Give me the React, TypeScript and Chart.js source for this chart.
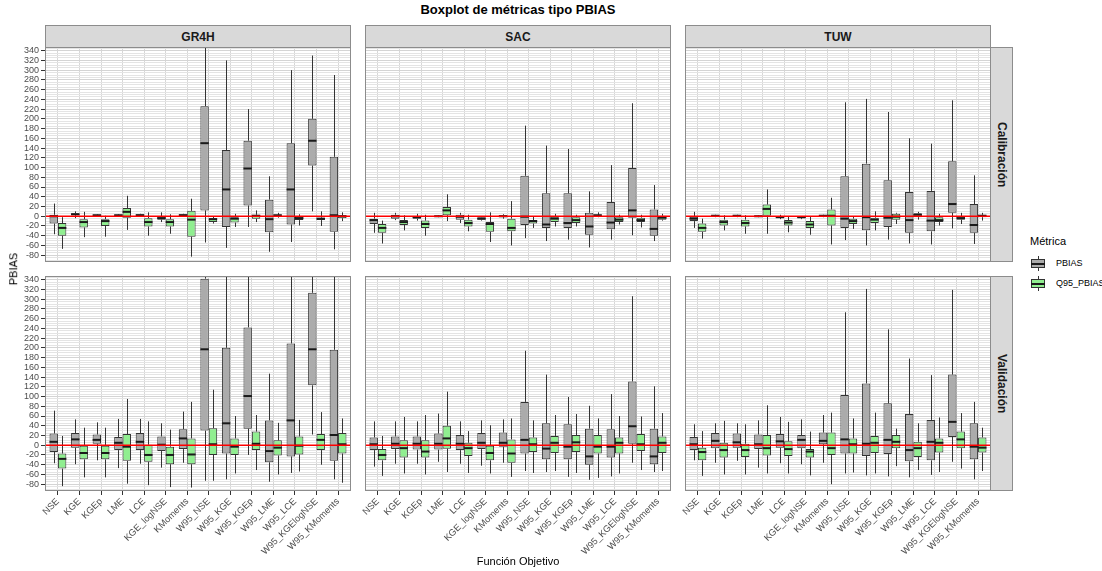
import React, { useEffect, useRef } from "react";
import { Chart, registerables } from "chart.js";
Chart.register(...registerables);

// ---------- data ----------
const categories = ["NSE", "KGE", "KGEp", "LME", "LCE", "KGE_logNSE", "KMoments", "W95_NSE", "W95_KGE", "W95_KGEp", "W95_LME", "W95_LCE", "W95_KGElogNSE", "W95_KMoments"];
const models = ["GR4H", "SAC", "TUW"];
const periods = ["Calibración", "Validación"];
const metrics = ["PBIAS", "Q95_PBIAS"];
const yTicks = [-80, -60, -40, -20, 0, 20, 40, 60, 80, 100, 120, 140, 160, 180, 200, 220, 240, 260, 280, 300, 320, 340];

// each entry: [min, q1, median, q3, max]
const gr4hCalPBIAS = [[-37,-15,0,3,26],[-4,2,4,6,10],[0,1,2,3,4],[0,1,2,3,4],[-1,1,2,4,5],[-12,-7,-4,-1,8],[-1,1,2,4,5],[-54,12,150,226,360],[-65,-22,55,136,320],[-22,22,98,155,220],[-73,-33,-6,34,82],[-53,-17,55,150,300],[10,104,155,200,330],[-68,-32,2,122,290]];
const gr4hCalQ95 = [[-67,-40,-24,-14,-2],[-43,-23,-12,-6,9],[-42,-20,-10,-6,1],[-28,-3,9,17,42],[-40,-21,-12,-4,8],[-36,-21,-12,-6,4],[-83,-42,-7,11,36],[-15,-12,-6,-4,0],[-22,-13,-5,-2,5],[-12,-5,1,3,12],[-3,0,2,3,7],[-19,-8,-4,-1,4],[-20,-8,-5,-3,10],[-10,-4,0,2,8]];
const gr4hValPBIAS = [[-37,-14,7,24,71],[-39,-5,12,25,53],[-31,3,11,22,47],[-47,-10,5,17,54],[-38,-10,7,25,54],[-46,-12,1,18,45],[-36,-8,14,33,69],[-73,30,197,342,420],[-70,-17,45,200,400],[-20,34,101,242,380],[-75,-35,-12,51,147],[-57,-23,51,209,390],[22,123,197,313,420],[-70,-32,21,196,400]];
const gr4hValQ95 = [[-84,-48,-28,-17,19],[-66,-29,-16,-1,36],[-66,-29,-16,-1,36],[-79,-32,-3,23,95],[-82,-34,-20,1,49],[-86,-39,-20,-3,32],[-87,-39,-19,14,89],[-73,-20,2,35,114],[-58,-20,-3,14,60],[-51,-10,3,28,62],[-60,-21,-5,10,46],[-54,-19,-1,18,52],[-40,-10,11,23,68],[-77,-17,2,25,55]];
const sacCalPBIAS = [[-34,-16,-8,-5,7],[-8,-5,0,3,7],[-9,-5,-2,0,5],[-2,-1,0,1,2],[-14,-7,-1,3,7],[-9,-7,-5,-2,0],[-5,-2,0,2,4],[-45,-18,-1,83,186],[-51,-24,-17,47,145],[-48,-24,-14,47,138],[-64,-38,-21,7,51],[-48,-27,-13,29,105],[-39,-3,12,99,232],[-51,-40,-26,14,64]];
const sacCalQ95 = [[-56,-34,-24,-16,-9],[-29,-18,-12,-8,2],[-40,-24,-16,-9,3],[-10,2,12,19,45],[-31,-21,-14,-7,3],[-53,-32,-16,-12,8],[-60,-31,-24,-5,31],[-24,-15,-10,-8,0],[-21,-12,-5,-1,5],[-21,-14,-8,-2,3],[-2,1,2,3,8],[-17,-12,-7,-2,3],[-23,-12,-8,-3,3],[-9,-7,-3,1,5]];
const sacValPBIAS = [[-44,-10,2,16,49],[-38,-8,3,18,49],[-38,-9,3,18,49],[-34,-9,3,24,65],[-38,-10,3,21,49],[-42,-8,5,25,51],[-36,-3,5,26,53],[-53,-17,11,89,194],[-55,-29,-7,45,145],[-65,-29,-3,43,99],[-71,-40,-23,34,81],[-64,-25,-3,33,105],[-36,3,39,131,306],[-55,-39,-23,34,121]];
const sacValQ95 = [[-63,-31,-20,-8,19],[-58,-25,-6,10,58],[-60,-25,-13,10,62],[-55,-7,14,40,110],[-57,-22,-6,5,29],[-58,-31,-16,-1,41],[-65,-36,-17,12,55],[-57,-14,2,16,51],[-53,-16,5,19,62],[-57,-14,6,21,64],[-67,-17,-3,21,55],[-58,-17,5,16,60],[-51,-12,2,23,59],[-53,-16,5,18,66]];
const tuwCalPBIAS = [[-24,-10,-5,-1,9],[-2,-1,1,2,3],[-2,-1,1,2,3],[-2,-1,0,1,2],[-6,-3,-2,0,3],[-6,-4,-2,-1,0],[-2,-1,1,2,3],[-49,-24,-5,82,234],[-60,-29,-2,108,241],[-48,-22,-3,74,214],[-56,-34,-8,50,160],[-58,-31,-9,52,149],[-25,7,25,113,238],[-57,-34,-18,25,84]];
const tuwCalQ95 = [[-46,-32,-24,-15,-5],[-29,-19,-12,-7,2],[-36,-21,-14,-7,2],[-36,1,15,24,55],[-33,-19,-13,-8,-1],[-38,-24,-17,-10,0],[-58,-19,1,14,38],[-26,-16,-10,-5,0],[-29,-14,-7,-3,10],[-16,-7,-1,5,7],[-7,-2,3,6,9],[-19,-12,-8,-2,5],[-16,-7,-4,-1,7],[-9,-2,1,3,7]];
const tuwValPBIAS = [[-31,-10,2,17,43],[-36,-6,9,25,45],[-32,-5,6,24,45],[-46,-8,2,22,51],[-37,-5,8,23,58],[-39,-6,11,21,53],[-36,2,9,26,62],[-58,-17,12,103,273],[-62,-22,3,127,321],[-64,-18,11,86,238],[-66,-33,-10,64,178],[-61,-31,7,52,144],[-34,17,48,145,319],[-70,-29,-3,45,89]];
const tuwValQ95 = [[-63,-31,-14,-5,29],[-60,-25,-10,5,50],[-60,-24,-10,3,43],[-58,-21,-6,21,82],[-58,-22,-8,8,48],[-62,-25,-13,-8,28],[-80,-20,-6,26,67],[-56,-17,2,14,55],[-58,-16,5,19,67],[-43,-6,7,21,34],[-51,-24,-6,7,45],[-55,-15,5,14,57],[-48,-6,12,28,66],[-53,-15,-5,16,36]];

const panels = [
  { row: 0, col: 0, pb: gr4hCalPBIAS, q95: gr4hCalQ95 },
  { row: 0, col: 1, pb: sacCalPBIAS, q95: sacCalQ95 },
  { row: 0, col: 2, pb: tuwCalPBIAS, q95: tuwCalQ95 },
  { row: 1, col: 0, pb: gr4hValPBIAS, q95: gr4hValQ95 },
  { row: 1, col: 1, pb: sacValPBIAS, q95: sacValQ95 },
  { row: 1, col: 2, pb: tuwValPBIAS, q95: tuwValQ95 },
];

// ---------- style / layout ----------
const FONT = "'Liberation Sans', Arial, Helvetica, sans-serif";
const COL_LEFT = [45, 365, 685];
const ROW_TOP = [47, 276];
const PANEL_W = 306;
const PANEL_H = 215;
const X_AXIS_H = 76;
const Y_MIN = -94;
const Y_MAX = 347.5;
const GRAY_FILL = "#ababab";
const GREEN_FILL = "#90ee90";
const OUTLINE = "#333333";

const yGridValues: number[] = [];
for (let v = -90; v <= 345; v += 5) yGridValues.push(v);

const boxExtras = {
  id: "boxExtras",
  beforeDatasetsDraw(chart: any) {
    const { ctx, chartArea: a } = chart;
    const y = chart.scales.y;
    ctx.save();
    ctx.beginPath();
    ctx.rect(a.left, a.top, a.right - a.left, a.bottom - a.top);
    ctx.clip();
    ctx.strokeStyle = OUTLINE;
    ctx.lineWidth = 1;
    chart.data.datasets.forEach((ds: any, di: number) => {
      const meta = chart.getDatasetMeta(di);
      meta.data.forEach((bar: any, i: number) => {
        const s = ds.stats[i];
        const x = Math.round(bar.x) + 0.5;
        ctx.beginPath();
        ctx.moveTo(x, y.getPixelForValue(s[0]));
        ctx.lineTo(x, y.getPixelForValue(s[1]));
        ctx.moveTo(x, y.getPixelForValue(s[3]));
        ctx.lineTo(x, y.getPixelForValue(s[4]));
        ctx.stroke();
      });
    });
    ctx.restore();
  },
  afterDatasetsDraw(chart: any) {
    const { ctx, chartArea: a } = chart;
    const y = chart.scales.y;
    ctx.save();
    ctx.beginPath();
    ctx.rect(a.left, a.top, a.right - a.left, a.bottom - a.top);
    ctx.clip();
    ctx.strokeStyle = "#1a1a1a";
    ctx.lineWidth = 2;
    chart.data.datasets.forEach((ds: any, di: number) => {
      const meta = chart.getDatasetMeta(di);
      meta.data.forEach((bar: any, i: number) => {
        const s = ds.stats[i];
        const py = y.getPixelForValue(s[2]);
        ctx.beginPath();
        ctx.moveTo(bar.x - bar.width / 2, py);
        ctx.lineTo(bar.x + bar.width / 2, py);
        ctx.stroke();
      });
    });
    // zero reference line
    const y0 = y.getPixelForValue(0);
    ctx.strokeStyle = "#ff0000";
    ctx.lineWidth = 1.5;
    ctx.beginPath();
    ctx.moveTo(a.left, y0);
    ctx.lineTo(a.right, y0);
    ctx.stroke();
    ctx.restore();
  },
  afterDraw(chart: any) {
    const { ctx, chartArea: a } = chart;
    ctx.save();
    ctx.strokeStyle = "#8c8c8c";
    ctx.lineWidth = 1;
    ctx.strokeRect(a.left + 0.5, a.top + 0.5, a.right - a.left - 1, a.bottom - a.top - 1);
    ctx.restore();
  },
};

function makeConfig(pb: number[][], q95: number[][], showX: boolean, showY: boolean, yW: number): any {
  const mk = (label: string, stats: number[][], color: string) => ({
    label,
    stats,
    data: stats.map((s, i) => ({ x: i, y: [s[1], s[3]] })),
    backgroundColor: color,
    borderColor: OUTLINE,
    borderWidth: 1,
    borderSkipped: false,
    categoryPercentage: 0.78,
    barPercentage: 1,
  });
  return {
    type: "bar",
    data: { datasets: [mk(metrics[0], pb, GRAY_FILL), mk(metrics[1], q95, GREEN_FILL)] },
    options: {
      animation: false,
      responsive: false,
      maintainAspectRatio: false,
      layout: { padding: 0, autoPadding: false },
      plugins: { legend: { display: false }, tooltip: { enabled: false }, title: { display: false } },
      scales: {
        x: {
          type: "linear",
          min: -0.6,
          max: categories.length - 0.4,
          offset: false,
          afterBuildTicks: (s: any) => {
            s.ticks = categories.map((_, i) => ({ value: i }));
          },
          afterFit: (s: any) => {
            s.height = showX ? X_AXIS_H : 0;
            s.paddingLeft = 0;
            s.paddingRight = 0;
          },
          ticks: {
            display: showX,
            autoSkip: false,
            maxRotation: 45,
            minRotation: 45,
            padding: 1,
            color: "#4d4d4d",
            font: { family: FONT, size: 9.3 },
            callback: (v: any) => categories[v] ?? "",
          },
          grid: { color: "#d7d7d7", lineWidth: 1, offset: false, drawTicks: showX, tickLength: 4, tickColor: OUTLINE },
          border: { display: false },
        },
        y: {
          type: "linear",
          min: Y_MIN,
          max: Y_MAX,
          afterBuildTicks: (s: any) => {
            s.ticks = yGridValues.map((v) => ({ value: v }));
          },
          afterFit: (s: any) => {
            s.width = yW;
            s.paddingTop = 0;
            s.paddingBottom = 0;
          },
          ticks: {
            display: showY,
            autoSkip: false,
            padding: 2,
            color: "#4d4d4d",
            font: { family: FONT, size: 9 },
            callback: (v: any) => (yTicks.includes(v) ? String(v) : ""),
          },
          grid: {
            color: (c: any) => (c.tick && yTicks.includes(c.tick.value) ? "#d4d4d4" : "#e4e4e4"),
            lineWidth: 1,
            drawTicks: showY,
            tickLength: 4,
            tickColor: (c: any) => (c.tick && yTicks.includes(c.tick.value) ? OUTLINE : "rgba(0,0,0,0)"),
          },
          border: { display: false },
        },
      },
    },
    plugins: [boxExtras],
  };
}

function Panel({ pb, q95, row, col }: { pb: number[][]; q95: number[][]; row: number; col: number }) {
  const ref = useRef<HTMLCanvasElement>(null);
  const yW = col === 0 ? 45 : 14;
  const w = yW + PANEL_W;
  const h = PANEL_H + (row === 1 ? X_AXIS_H : 0);
  const left = COL_LEFT[col] - yW;
  const top = ROW_TOP[row];
  useEffect(() => {
    const chart = new Chart(ref.current as HTMLCanvasElement, makeConfig(pb, q95, row === 1, col === 0, yW));
    return () => chart.destroy();
  }, []);
  return <canvas ref={ref} width={w} height={h} style={{ position: "absolute", left, top, width: w, height: h }} />;
}

function LegendKey({ top, fill }: { top: number; fill: string }) {
  return (
    <div style={{ position: "absolute", left: 1031, top, width: 14, height: 15 }}>
      <div style={{ position: "absolute", left: 6.5, top: 0, width: 1, height: 15, background: OUTLINE }} />
      <div style={{ position: "absolute", left: 0, top: 3, width: 14, height: 9, boxSizing: "border-box", border: `1px solid ${OUTLINE}`, background: fill }} />
      <div style={{ position: "absolute", left: 0, top: 6.5, width: 14, height: 2, background: "#1a1a1a" }} />
    </div>
  );
}

export default function App() {
  const stripStyle: React.CSSProperties = {
    position: "absolute",
    boxSizing: "border-box",
    background: "#d9d9d9",
    border: "1px solid #8c8c8c",
    display: "flex",
    alignItems: "center",
    justifyContent: "center",
    fontFamily: FONT,
    fontWeight: "bold",
    fontSize: 12,
    color: "#1a1a1a",
  };
  return (
    <div style={{ position: "fixed", left: 0, top: 0, width: 1102, height: 571, background: "#ffffff", overflow: "hidden", fontFamily: FONT }}>
      <div style={{ position: "absolute", left: 45, top: 2, width: 946, textAlign: "center", fontWeight: "bold", fontSize: 13, color: "#000" }}>
        Boxplot de métricas tipo PBIAS
      </div>
      {models.map((m, c) => (
        <div key={m} style={{ ...stripStyle, left: COL_LEFT[c], top: 25, width: PANEL_W, height: 23 }}>{m}</div>
      ))}
      {periods.map((p, r) => (
        <div key={p} style={{ ...stripStyle, left: COL_LEFT[2] + PANEL_W - 1, top: ROW_TOP[r], width: 23, height: PANEL_H }}>
          <span style={{ writingMode: "vertical-rl" }}>{p}</span>
        </div>
      ))}
      {panels.map((p) => (
        <Panel key={`${p.row}-${p.col}`} pb={p.pb} q95={p.q95} row={p.row} col={p.col} />
      ))}
      <div style={{ position: "absolute", left: 6, top: 262, width: 14, height: 14, display: "flex", alignItems: "center", justifyContent: "center" }}>
        <span style={{ transform: "rotate(-90deg)", fontSize: 11, color: "#000", whiteSpace: "nowrap" }}>PBIAS</span>
      </div>
      <div style={{ position: "absolute", left: 45, top: 555, width: 946, textAlign: "center", fontSize: 11, color: "#000" }}>Función Objetivo</div>
      <div style={{ position: "absolute", left: 1030, top: 235, fontSize: 11, color: "#000", whiteSpace: "nowrap" }}>Métrica</div>
      <LegendKey top={256} fill={GRAY_FILL} />
      <LegendKey top={276} fill={GREEN_FILL} />
      <div style={{ position: "absolute", left: 1056, top: 258, fontSize: 9, color: "#000", whiteSpace: "nowrap" }}>{metrics[0]}</div>
      <div style={{ position: "absolute", left: 1056, top: 278, fontSize: 9, color: "#000", whiteSpace: "nowrap" }}>{metrics[1]}</div>
    </div>
  );
}
